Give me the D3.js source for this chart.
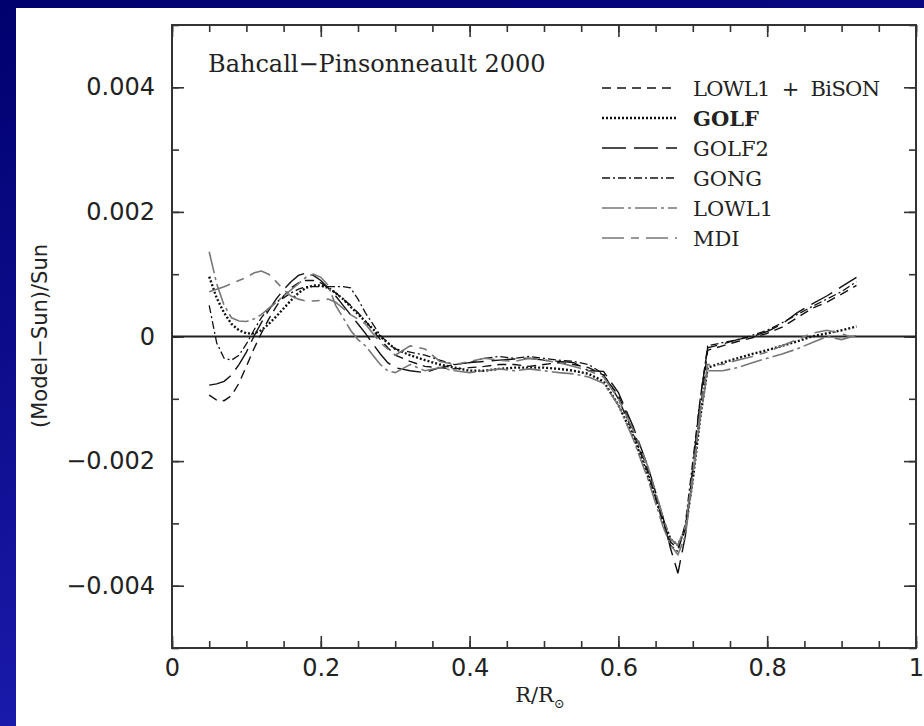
<!DOCTYPE html>
<html>
<head>
<meta charset="utf-8">
<script src="https://cdn.jsdelivr.net/npm/d3@7"></script>
<style>
  body { margin: 0; overflow: hidden; background: #0a0a8c; }
</style>
</head>
<body>
<script>
const width = 924;
const height = 726;

// rayon R/Rsun, commun a toutes les courbes
const radius = [0.05,0.06,0.07,0.08,0.09,0.10,0.11,0.12,0.13,0.14,0.15,0.16,0.17,0.18,0.19,0.20,0.21,0.22,0.23,0.24,0.25,0.26,0.27,0.28,0.29,0.30,
  0.32,0.34,0.36,0.38,0.40,0.42,0.44,0.46,0.48,0.50,0.52,0.54,0.56,0.58,0.60,0.62,0.64,0.66,
  0.67,0.68,0.69,0.70,0.71,0.72,
  0.74,0.76,0.78,0.80,0.82,0.84,0.86,0.88,0.90,0.92]

// (Model-Sun)/Sun, en unites de 1e-3
const lowl1Bison = [-0.94,-1.02,-1.03,-0.95,-0.75,-0.48,-0.2,0.05,0.28,0.48,0.65,0.78,0.86,0.9,0.9,0.86,0.78,0.7,0.6,0.5,0.38,0.25,0.1,-0.05,-0.18,-0.3,
  -0.4,-0.48,-0.5,-0.52,-0.5,-0.48,-0.45,-0.45,-0.48,-0.45,-0.42,-0.45,-0.5,-0.62,-0.95,-1.5,-2.15,-2.95,
  -3.3,-3.4,-3.1,-2.2,-1.2,-0.22,
  -0.15,-0.08,-0.02,0.05,0.15,0.3,0.45,0.55,0.68,0.82]
const golf = [0.96,0.62,0.38,0.2,0.1,0.05,0.05,0.1,0.2,0.32,0.45,0.58,0.7,0.78,0.82,0.82,0.78,0.7,0.6,0.48,0.36,0.24,0.12,0.0,-0.1,-0.2,
  -0.3,-0.38,-0.45,-0.5,-0.55,-0.55,-0.52,-0.5,-0.5,-0.5,-0.52,-0.55,-0.6,-0.72,-1.1,-1.6,-2.25,-2.95,
  -3.25,-3.35,-3.1,-2.3,-1.3,-0.5,
  -0.42,-0.35,-0.28,-0.22,-0.15,-0.08,0.0,0.05,0.1,0.16]
const golf2 = [-0.78,-0.76,-0.72,-0.62,-0.45,-0.25,0.0,0.22,0.42,0.6,0.75,0.88,0.98,1.02,0.98,0.9,0.78,0.65,0.5,0.35,0.2,0.05,-0.12,-0.28,-0.42,-0.5,
  -0.55,-0.58,-0.5,-0.45,-0.42,-0.4,-0.38,-0.36,-0.35,-0.38,-0.4,-0.42,-0.55,-0.56,-0.9,-1.45,-2.1,-2.9,
  -3.4,-3.8,-3.2,-2.1,-1.0,-0.18,
  -0.12,-0.05,0.0,0.08,0.2,0.38,0.52,0.65,0.8,0.95]
const gong = [0.5,-0.1,-0.35,-0.38,-0.3,-0.12,0.1,0.3,0.45,0.55,0.62,0.7,0.76,0.8,0.8,0.8,0.8,0.8,0.8,0.78,0.6,0.38,0.2,0.02,-0.1,-0.2,
  -0.25,-0.3,-0.38,-0.45,-0.42,-0.35,-0.32,-0.35,-0.32,-0.35,-0.38,-0.4,-0.45,-0.6,-1.0,-1.55,-2.2,-3.0,
  -3.35,-3.45,-3.0,-2.0,-1.0,-0.15,
  -0.1,-0.05,0.02,0.1,0.22,0.35,0.48,0.6,0.72,0.88]
const lowl1 = [1.36,0.85,0.5,0.3,0.25,0.24,0.28,0.35,0.45,0.55,0.65,0.75,0.85,0.95,1.0,0.95,0.82,0.5,0.3,0.1,-0.05,-0.15,-0.3,-0.45,-0.55,-0.58,
  -0.45,-0.55,-0.5,-0.55,-0.58,-0.55,-0.52,-0.55,-0.52,-0.55,-0.58,-0.6,-0.65,-0.75,-1.1,-1.65,-2.3,-3.05,
  -3.35,-3.5,-3.2,-2.3,-1.3,-0.55,
  -0.55,-0.5,-0.42,-0.35,-0.28,-0.2,-0.1,0.0,-0.05,0.02]
const mdi = [0.72,0.76,0.8,0.85,0.9,0.95,1.02,1.05,1.0,0.88,0.75,0.65,0.6,0.57,0.57,0.58,0.6,0.55,0.45,0.35,0.28,0.2,0.05,-0.1,-0.2,-0.3,
  -0.15,-0.2,-0.4,-0.45,-0.4,-0.35,-0.38,-0.4,-0.35,-0.38,-0.42,-0.48,-0.55,-0.65,-1.0,-1.5,-2.1,-2.9,
  -3.25,-3.35,-3.05,-2.2,-1.2,-0.45,
  -0.45,-0.38,-0.32,-0.25,-0.15,-0.05,0.05,0.1,0.05,-0.05]

const seriesNames = ['LOWL1 + BiSON', 'GOLF', 'GOLF2', 'GONG', 'LOWL1', 'MDI']
const seriesValues = [lowl1Bison, golf, golf2, gong, lowl1, mdi]

const xTicks = [0, 0.2, 0.4, 0.6, 0.8, 1]
const xTickLabels = ['0', '0.2', '0.4', '0.6', '0.8', '1']
const yTicks = [-4, -2, 0, 2, 4]
const yTickLabels = ['\u22120.004', '\u22120.002', '0', '0.002', '0.004']

// styles des traits (un par serie)
const styles = [
  { color: '#111', dash: '9,6', w: 1.4, bold: false },
  { color: '#111', dash: '2,2', w: 2.4, bold: true },
  { color: '#111', dash: '24,8', w: 1.4, bold: false },
  { color: '#111', dash: '8,3,2,3', w: 1.3, bold: false },
  { color: '#777', dash: '22,4,3,4', w: 1.6, bold: false },
  { color: '#777', dash: '22,7,8,7', w: 1.6, bold: false },
]

const plotLeft = 172, plotRight = 916, plotTop = 25, plotBottom = 648

const x = d3.scaleLinear().domain([0, 1]).range([plotLeft, plotRight])
const y = d3.scaleLinear().domain([-5, 5]).range([plotBottom, plotTop])

const svg = d3.select('body').append('svg')
  .attr('width', width)
  .attr('height', height)

// fond bleu degrade
const grad = svg.append('defs').append('linearGradient')
  .attr('id', 'bg').attr('x1', 0).attr('y1', 0).attr('x2', 0.3).attr('y2', 1)
grad.append('stop').attr('offset', 0).attr('stop-color', '#00006e')
grad.append('stop').attr('offset', 1).attr('stop-color', '#1c1cb0')
svg.append('rect').attr('width', width).attr('height', height).attr('fill', 'url(#bg)')

// panneau blanc
svg.append('rect')
  .attr('x', 16).attr('y', 8)
  .attr('width', width - 16).attr('height', height - 8)
  .attr('fill', '#fff')

const tickFont = g => g.selectAll('text')
  .attr('font-family', 'DejaVu Sans, sans-serif')
  .attr('font-size', 24)
  .attr('fill', '#222')

// axes: ticks vers l'interieur sur les 4 cotes
const drawAxis = (axisFn, pos, transform, major, minor, labels) => {
  svg.append('g')
    .attr('transform', transform)
    .call(axisFn(pos).tickValues(minor).tickSize(-7).tickFormat(''))
    .call(g => g.select('.domain').remove())
    .call(g => g.selectAll('line').attr('stroke', '#333').attr('stroke-width', 1.6))
  const g = svg.append('g')
    .attr('transform', transform)
    .call(axisFn(pos).tickValues(major).tickSize(-12)
      .tickPadding(axisFn === d3.axisBottom ? 11 : 17)
      .tickFormat((d, i) => labels ? labels[i] : ''))
    .call(g => g.select('.domain').remove())
    .call(g => g.selectAll('line').attr('stroke', '#333').attr('stroke-width', 1.6))
  tickFont(g)
}

const xMinor = d3.range(0, 1.0001, 0.05).map(d => +d.toFixed(2))
const yMinor = d3.range(-5, 5.0001, 1)

drawAxis(d3.axisBottom, x, `translate(0,${plotBottom})`, xTicks, xMinor, xTickLabels)
drawAxis(d3.axisTop, x, `translate(0,${plotTop})`, xTicks, xMinor, null)
drawAxis(d3.axisLeft, y, `translate(${plotLeft},0)`, yTicks, yMinor, yTickLabels)
drawAxis(d3.axisRight, y, `translate(${plotRight},0)`, yTicks, yMinor, null)

// cadre
svg.append('rect')
  .attr('x', plotLeft).attr('y', plotTop)
  .attr('width', plotRight - plotLeft).attr('height', plotBottom - plotTop)
  .attr('fill', 'none').attr('stroke', '#333').attr('stroke-width', 2)

// ligne zero
svg.append('line')
  .attr('x1', plotLeft).attr('x2', plotRight)
  .attr('y1', y(0)).attr('y2', y(0))
  .attr('stroke', '#222').attr('stroke-width', 2)

const line = d3.line()
  .x((d, i) => x(radius[i]))
  .y(d => y(d))

svg.append('g').selectAll('path')
  .data(seriesValues)
  .enter()
  .append('path')
  .attr('d', line)
  .attr('fill', 'none')
  .attr('stroke', (d, i) => styles[i].color)
  .attr('stroke-width', (d, i) => styles[i].w)
  .attr('stroke-dasharray', (d, i) => styles[i].dash)

// legende
const ROW = 30
const legend = svg.append('g').attr('transform', 'translate(602, 88)')

legend.selectAll('line')
  .data(seriesNames)
  .enter()
  .append('line')
  .attr('x1', 0).attr('x2', 75)
  .attr('y1', (d, i) => i * ROW).attr('y2', (d, i) => i * ROW)
  .attr('stroke', (d, i) => styles[i].color)
  .attr('stroke-width', (d, i) => styles[i].w)
  .attr('stroke-dasharray', (d, i) => styles[i].dash)

legend.selectAll('text')
  .data(seriesNames)
  .enter()
  .append('text')
  .attr('x', 91)
  .attr('y', (d, i) => i * ROW + 8)
  .attr('font-family', 'DejaVu Serif, serif')
  .attr('font-size', 21)
  .attr('font-weight', (d, i) => styles[i].bold ? 'bold' : 'normal')
  .attr('fill', '#222')
  .attr('xml:space', 'preserve')
  .text(d => d.replace(' + ', '  +  '))
  .filter((d, i) => i === 0)
  .attr('textLength', 187)

// annotation
svg.append('text')
  .attr('x', 208).attr('y', 72)
  .attr('font-family', 'DejaVu Serif, serif')
  .attr('font-size', 24)
  .attr('fill', '#222')
  .text('Bahcall\u2212Pinsonneault 2000')

// titres des axes
const xTitle = svg.append('text')
  .attr('x', (plotLeft + plotRight) / 2 - 4).attr('y', 702)
  .attr('text-anchor', 'middle')
  .attr('font-family', 'DejaVu Serif, serif')
  .attr('font-size', 21)
  .attr('fill', '#222')
xTitle.append('tspan').text('R/R')
xTitle.append('tspan').attr('font-size', 13).attr('dy', 6).text('\u2299')

svg.append('text')
  .attr('transform', `translate(47, 336) rotate(-90)`)
  .attr('text-anchor', 'middle')
  .attr('font-family', 'DejaVu Sans, sans-serif')
  .attr('font-size', 21)
  .attr('fill', '#222')
  .text('(Model\u2212Sun)/Sun')
</script>
</body>
</html>
